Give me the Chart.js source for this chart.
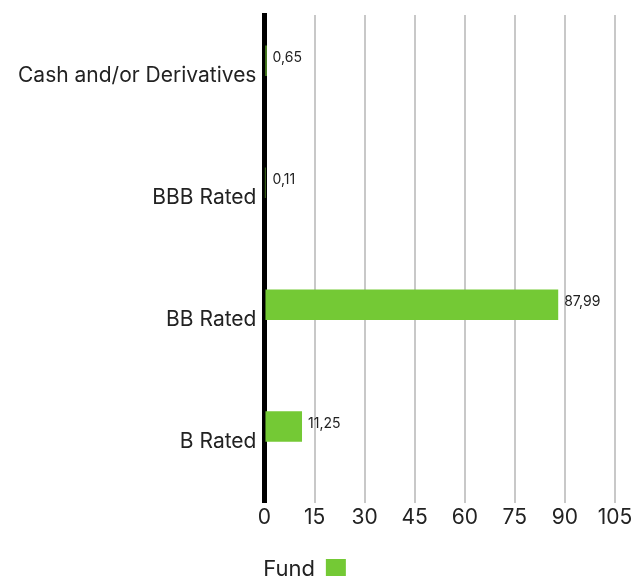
<!DOCTYPE html>
<html>
<head>
<meta charset="utf-8">
<script src="https://cdn.jsdelivr.net/npm/chart.js@4.4.1/dist/chart.umd.min.js"></script>
<style>
  html, body { margin: 0; padding: 0; background: #fff; }
  #wrap { position: relative; width: 635px; height: 576px; }
</style>
</head>
<body>
<div id="wrap"><canvas id="chart"></canvas></div>
<script>
const categories = ['Cash and/or Derivatives', 'BBB Rated', 'BB Rated', 'B Rated'];
const fundValues = [0.65, 0.11, 87.99, 11.25];
const emptyValues = [null, null, null, null]; // placeholder series, no data shown
const xTicks = [0, 15, 30, 45, 60, 75, 90, 105];

const FONT = 'Inter, "Noto Sans", sans-serif';
const GREEN = '#74c935';

// draws the value next to the end of each bar, with a decimal comma
const valueLabels = {
  id: 'valueLabels',
  afterDraw(chart) {
    const ctx = chart.ctx;
    const meta = chart.getDatasetMeta(0);
    const axisX = chart.scales.x.getPixelForValue(0) + 2;
    ctx.save();
    ctx.font = '14px ' + FONT;
    ctx.fillStyle = '#222';
    ctx.textAlign = 'left';
    ctx.textBaseline = 'middle';
    meta.data.forEach((bar, i) => {
      const txt = fundValues[i].toFixed(2).replace('.', ',');
      ctx.fillText(txt, Math.max(bar.x, axisX) + 6, bar.y - 3);
    });
    ctx.restore();
  }
};

new Chart(document.getElementById('chart'), {
  type: 'bar',
  data: {
    labels: categories,
    datasets: [
      {
        label: 'Fund',
        data: fundValues,
        backgroundColor: GREEN,
        borderWidth: 0,
        categoryPercentage: 0.5,
        barPercentage: 1.0,
      },
      {
        label: '',
        data: emptyValues,
        backgroundColor: 'transparent',
        categoryPercentage: 0.5,
        barPercentage: 1.0,
      },
    ],
  },
  options: {
    indexAxis: 'y',
    responsive: true,
    maintainAspectRatio: false,
    animation: false,
    layout: { padding: { top: 15, right: 20, left: -6, bottom: -14 } },
    scales: {
      x: {
        min: 0,
        max: 105,
        afterBuildTicks(axis) {
          axis.ticks = xTicks.map(v => ({ value: v }));
        },
        afterFit(axis) {
          axis.height += 12; // gap between tick labels and legend
        },
        grid: { color: '#c8c8c8', lineWidth: 2, drawTicks: false },
        border: { display: false },
        ticks: { color: '#222', font: { family: FONT, size: 21 }, padding: 2 },
      },
      y: {
        z: 1,
        afterFit(axis) {
          axis.width += 16;
          axis.paddingTop = 0;
          axis.paddingBottom = 0;
        },
        grid: { display: false, drawTicks: false },
        border: { display: true, color: '#000', width: 5 },
        ticks: { color: '#222', font: { family: FONT, size: 21 }, padding: 8 },
      },
    },
    plugins: {
      tooltip: { enabled: false },
      legend: {
        position: 'bottom',
        rtl: true,
        labels: {
          color: '#222',
          font: { family: FONT, size: 22 },
          boxWidth: 20,
          boxHeight: 20,
          padding: 14,
          filter: item => item.text !== '',
        },
      },
    },
  },
  plugins: [valueLabels],
});
</script>
</body>
</html>
